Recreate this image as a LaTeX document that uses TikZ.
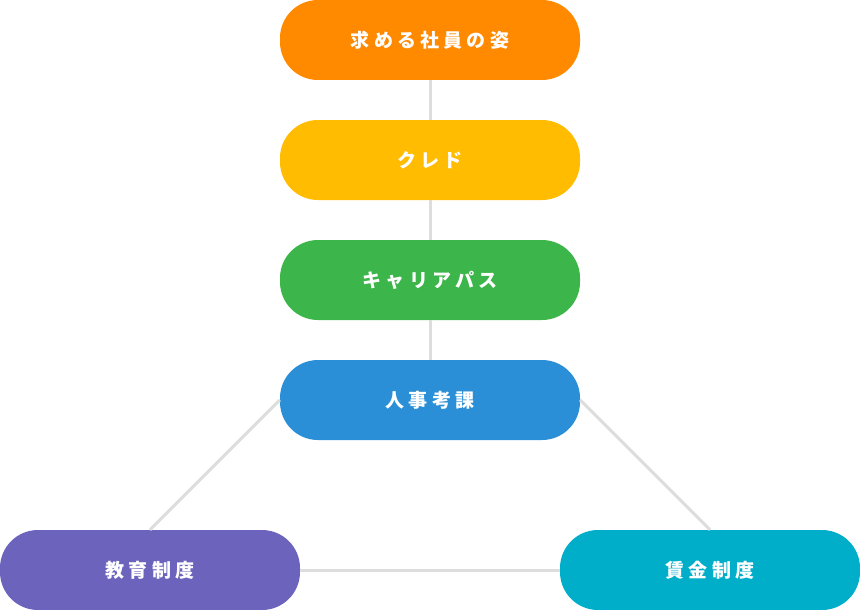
\documentclass[tikz,border=0pt]{standalone}
\usepackage{fontspec}
\usetikzlibrary{positioning}
\newfontfamily\jpfont[LetterSpace=22]{Noto Sans CJK JP}
\definecolor{c_orange}{HTML}{FF8A00}
\definecolor{c_yellow}{HTML}{FFBC00}
\definecolor{c_green}{HTML}{3CB54A}
\definecolor{c_blue}{HTML}{2B8FD8}
\definecolor{c_purple}{HTML}{6B63BC}
\definecolor{c_teal}{HTML}{00AECA}
\definecolor{c_line}{HTML}{DDDDDD}

\begin{document}
\begin{tikzpicture}[x=1pt, y=-1pt,
  pill/.style={rectangle, rounded corners=38pt, fill=#1, minimum width=300pt, minimum height=80pt, inner sep=0pt, align=center, text=white, font=\jpfont\bfseries\fontsize{19}{22}\selectfont},
  link/.style={c_line, line width=3pt}
]
  \useasboundingbox (0,0) rectangle (860,610);
  \node[pill=c_orange] (sugata)  at (430, 40)  {求める社員の姿};
  \node[pill=c_yellow] (cred)    at (430, 160) {クレド};
  \node[pill=c_green]  (career)  at (430, 280) {キャリアパス};
  \node[pill=c_blue]   (kouka)   at (430, 400) {人事考課};
  \node[pill=c_purple] (kyouiku) at (150, 570) {教育制度};
  \node[pill=c_teal]   (chingin) at (710, 570) {賃金制度};
  \draw[link] (sugata) -- (cred);
  \draw[link] (cred) -- (career);
  \draw[link] (career) -- (kouka);
  \draw[link] (kouka.west) -- (kyouiku.north);
  \draw[link] (kouka.east) -- (chingin.north);
  \draw[link] (kyouiku) -- (chingin);
\end{tikzpicture}
\end{document}
